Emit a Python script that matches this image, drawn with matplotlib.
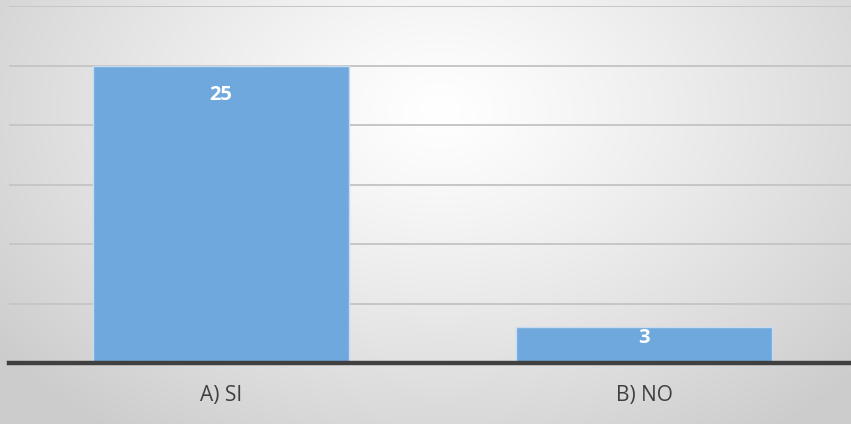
import numpy as np
import matplotlib
matplotlib.use("Agg")
import matplotlib.pyplot as plt

categories = ["A) SI", "B) NO"]
values = [25, 3]
label_offsets_pt = [-21, -8]

W, H = 851, 424
fig = plt.figure(figsize=(W / 100, H / 100), dpi=100)

# radial gradient background
bg = fig.add_axes([0, 0, 1, 1])
yy, xx = np.mgrid[0:H, 0:W]
cx, cy = 440, 110
r = np.sqrt(((xx - cx) / 560.0) ** 2 + ((yy - cy) / 400.0) ** 2)
r = np.clip(r, 0, 1)
c = 1.0 - (1.0 - 0.80) * r ** 1.2
img = np.dstack([c, c, c])
bg.imshow(img, aspect="auto", extent=[0, W, H, 0])
bg.axis("off")

left, right = 9, 856
bottom_px, top_px = 363, 6
ax = fig.add_axes([left / W, (H - bottom_px) / H, (right - left) / W, (bottom_px - top_px) / H])
ax.patch.set_alpha(0)
x = np.arange(len(categories))
bars = ax.bar(x, values, width=0.605, color="#6fa8dc", edgecolor="#c9dcef", linewidth=1.0, zorder=3)
ax.set_xlim(-0.5, 1.5)
ax.set_ylim(0, 30)
ax.set_yticks(np.arange(0, 31, 5))
ax.yaxis.grid(True, color="#c6c6c6", linewidth=1.4, zorder=0)
ax.tick_params(axis="y", left=False, labelleft=False)
ax.tick_params(axis="x", bottom=False, pad=12)
ax.set_xticks(x)
ax.set_xticklabels(categories, fontsize=15, color="#404040", family="Open Sans")
for s in ["top", "right", "left"]:
    ax.spines[s].set_visible(False)
ax.spines["bottom"].set_color("#404040")
ax.spines["bottom"].set_linewidth(3.2)
ax.spines["bottom"].set_zorder(4)

for xi, v, off in zip(x, values, label_offsets_pt):
    ax.annotate(str(v), (xi, v), xytext=(0, off), textcoords="offset points",
                ha="center", va="center", color="white", fontsize=14.5,
                fontweight="bold", family="Open Sans", zorder=5)

fig.savefig("out.png", dpi=100)
